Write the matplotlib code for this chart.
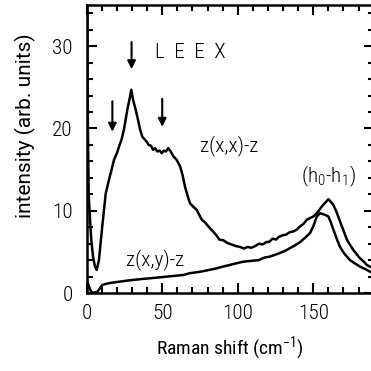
import matplotlib.pyplot as plt
import numpy as np

xx_shift = [0.3, 0.8, 1.3, 2.2, 3.0, 4.2, 5.5, 6.6, 8.1, 10.3, 12.6, 14.8,
            16.5, 18.1, 20.0, 21.4, 23.0, 24.7, 26.9, 28.3, 29.5, 30.8, 32.4,
            34.0, 35.3, 36.8, 38.2, 39.7, 41.0, 42.5, 44.0, 45.2, 46.8, 48.3,
            49.7, 51.0, 52.4, 54.0, 55.6, 57.4, 59.5, 61.8, 63.5, 65.1, 66.8,
            68.4, 70.5, 72.8, 74.5, 76.2, 78.2, 80.5, 83.0, 85.5, 87.8, 90.5,
            93.0, 95.8, 98.8, 101.5, 104.0, 106.5, 109.0, 111.5, 114.0, 116.5,
            119.0, 120.7, 123.0, 125.5, 127.0, 129.5, 132.0, 134.5, 137.0,
            139.0, 141.3, 143.5, 145.7, 147.8, 150.0, 152.3, 154.0, 155.6,
            157.5, 159.0, 160.0, 161.5, 163.3, 165.5, 167.7, 170.0, 172.2,
            174.5, 176.6, 178.8, 181.0, 183.5, 185.5, 187.6, 190.0]
xx_int = [36.0, 20.0, 12.0, 8.9, 6.5, 4.4, 3.2, 2.8, 4.0, 8.1, 12.1, 13.8,
          15.0, 16.2, 17.0, 17.8, 18.6, 19.9, 22.3, 23.5, 24.7, 23.4, 22.3,
          21.0, 19.9, 19.0, 18.7, 18.4, 18.0, 17.9, 17.4, 17.6, 17.2, 17.3,
          17.0, 17.3, 17.2, 17.6, 17.2, 16.6, 16.2, 15.4, 14.3, 12.9, 11.8,
          10.9, 10.5, 10.1, 9.5, 8.9, 8.6, 8.1, 7.6, 7.1, 6.5, 6.4, 6.1, 5.9,
          5.7, 5.6, 5.4, 5.6, 5.5, 5.7, 6.0, 5.9, 6.2, 6.2, 6.6, 6.5, 6.8,
          7.0, 7.1, 7.4, 7.5, 7.7, 8.1, 8.4, 8.9, 9.1, 9.3, 9.7, 10.1, 10.5,
          10.9, 11.2, 11.4, 11.1, 10.7, 9.8, 8.7, 7.6, 6.5, 5.8, 5.2, 4.7,
          4.2, 3.8, 3.4, 3.2, 3.0]

# spectrum z(x,y)-z
xy_shift = [0.3, 1.5, 2.6, 3.7, 5.3, 7.0, 8.5, 10.3, 12.5, 14.8, 18.5, 22.5,
            26.5, 31.3, 36.5, 42.4, 48.0, 53.4, 59.0, 64.4, 68.0, 72.0, 75.5,
            81.0, 86.0, 90.0, 94.5, 98.8, 103.5, 108.5, 114.0, 117.5, 120.7,
            124.0, 127.0, 131.0, 135.0, 138.0, 141.3, 144.5, 147.9, 150.2,
            152.3, 154.5, 156.2, 157.8, 160.0, 161.6, 163.3, 165.5, 167.7,
            170.5, 174.3, 177.5, 181.0, 184.5, 187.6, 190.0]
xy_int = [1.4, 0.8, 0.3, 0.05, 0.05, 0.15, 0.5, 0.97, 1.1, 1.2, 1.3, 1.4,
          1.5, 1.6, 1.7, 1.8, 1.9, 2.0, 2.1, 2.2, 2.4, 2.5, 2.6, 2.8, 3.0,
          3.2, 3.4, 3.6, 3.8, 3.9, 4.0, 4.3, 4.4, 4.6, 4.8, 5.1, 5.5, 5.8,
          6.2, 6.7, 7.3, 8.2, 9.3, 9.7, 9.6, 9.5, 9.3, 8.6, 7.7, 6.6, 5.6,
          4.8, 4.0, 3.6, 3.2, 2.9, 2.6, 2.4]

# arrows marking the low-frequency modes: (position, tail, head)
arrow_x = [17.0, 29.7, 50.0]
arrow_top = [23.3, 30.5, 23.6]
arrow_tip = [19.6, 27.2, 20.2]

FS = 15.3


def main() -> None:
    plt.rcParams['font.family'] = ['Roboto Condensed', 'DejaVu Sans']
    plt.rcParams['font.weight'] = 'light'
    plt.rcParams['mathtext.default'] = 'regular'
    fig = plt.figure(figsize=(3.71, 3.71), dpi=100)
    ax = fig.add_axes([0.2337, 0.2102, 0.7736, 0.7763])

    ax.plot(xx_shift, xx_int, color='black', lw=1.8)
    ax.plot(xy_shift, xy_int, color='black', lw=1.8)

    for x, y0, y1 in zip(arrow_x, arrow_top, arrow_tip):
        ax.annotate('', xy=(x, y1), xytext=(x, y0),
                    arrowprops=dict(arrowstyle='-|>', color='black', lw=1.5,
                                    mutation_scale=12, shrinkA=0, shrinkB=0))

    ax.text(45.2, 29.2, 'L  E  E  X', fontsize=FS, va='center', ha='left')
    ax.text(75.0, 17.9, 'z(x,x)-z', fontsize=FS, va='center', ha='left')
    ax.text(26.0, 4.1, 'z(x,y)-z', fontsize=FS, va='center', ha='left')
    ax.text(142.0, 14.2, r'(h$_0$-h$_1$)', fontsize=FS, va='center',
            ha='left')

    ax.set_xlim(0, 190)
    ax.set_ylim(0, 35)
    ax.set_xticks([0, 50, 100, 150])
    ax.set_xticks(np.arange(0, 191, 10), minor=True)
    ax.set_yticks([0, 10, 20, 30])
    ax.set_yticks(np.arange(0, 35.1, 2), minor=True)
    ax.tick_params(which='both', direction='in', top=True, right=True,
                   width=1.5, labelsize=FS)
    ax.tick_params(axis='x', which='major', pad=8)
    ax.tick_params(axis='y', which='major', pad=10)
    ax.tick_params(which='major', length=7)
    ax.tick_params(which='minor', length=4)
    for s in ax.spines.values():
        s.set_linewidth(1.8)

    ax.set_xlabel('Raman shift (cm$^{-1}$)', fontsize=14, labelpad=8)
    ax.set_ylabel('intensity (arb. units)', fontsize=15, family='Roboto')
    ax.yaxis.set_label_coords(-0.175, 0.58)

    fig.savefig('out.png', dpi=100)


if __name__ == "__main__":
    main()
